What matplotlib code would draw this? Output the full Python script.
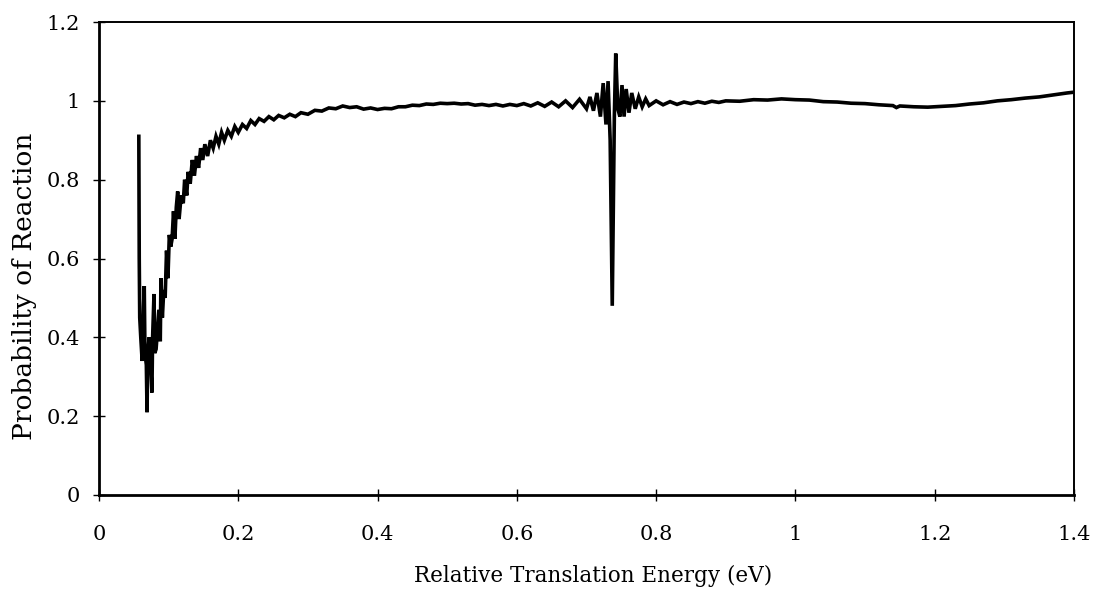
import matplotlib
matplotlib.use("Agg")
import matplotlib.pyplot as plt

# ── Reaction probability vs. relative translation energy ──
energy = [
    0.0572, 0.0578, 0.0585, 0.060, 0.062, 0.064, 0.065, 0.066, 0.068, 0.069,
    0.070, 0.072, 0.074, 0.076, 0.077, 0.079, 0.080, 0.082, 0.084, 0.086,
    0.088, 0.089, 0.091, 0.093, 0.095, 0.097, 0.099, 0.101, 0.103, 0.105,
    0.107, 0.109, 0.111, 0.113, 0.115, 0.118, 0.121, 0.123, 0.126, 0.128,
    0.131, 0.134, 0.137, 0.140, 0.143, 0.146, 0.149, 0.152, 0.156, 0.160,
    0.164, 0.168, 0.172, 0.176, 0.180, 0.185, 0.190, 0.195, 0.200, 0.206,
    0.212, 0.218, 0.224, 0.230, 0.237, 0.244, 0.251, 0.258, 0.266, 0.274,
    0.282, 0.290, 0.300, 0.31, 0.32, 0.33, 0.34, 0.35, 0.36, 0.37,
    0.38, 0.39, 0.40, 0.41, 0.42, 0.43, 0.44, 0.45, 0.46, 0.47,
    0.48, 0.49, 0.50, 0.51, 0.52, 0.53, 0.54, 0.55, 0.56, 0.57,
    0.58, 0.59, 0.60, 0.61, 0.62, 0.63, 0.64, 0.65, 0.66, 0.67,
    0.68, 0.69, 0.700, 0.705, 0.710, 0.715, 0.720, 0.724, 0.728, 0.731,
    0.734, 0.737, 0.740, 0.742, 0.745, 0.748, 0.751, 0.754, 0.757, 0.761,
    0.765, 0.77, 0.775, 0.78, 0.785, 0.79, 0.80, 0.81, 0.82, 0.83,
    0.84, 0.85, 0.86, 0.87, 0.88, 0.89, 0.90, 0.92, 0.94, 0.96,
    0.98, 1.00, 1.02, 1.04, 1.06, 1.08, 1.10, 1.12, 1.14, 1.145,
    1.15, 1.17, 1.19, 1.21, 1.23, 1.25, 1.27, 1.29, 1.31, 1.33,
    1.35, 1.37, 1.39, 1.40,
]
probability = [
    0.91, 0.60, 0.45, 0.40, 0.34, 0.48, 0.53, 0.36, 0.33, 0.21,
    0.36, 0.40, 0.34, 0.26, 0.40, 0.51, 0.36, 0.37, 0.42, 0.47,
    0.39, 0.55, 0.45, 0.52, 0.50, 0.62, 0.55, 0.66, 0.63, 0.65,
    0.72, 0.65, 0.73, 0.77, 0.70, 0.76, 0.74, 0.80, 0.76, 0.82,
    0.79, 0.85, 0.81, 0.86, 0.83, 0.88, 0.85, 0.89, 0.86, 0.90,
    0.88, 0.91, 0.89, 0.92, 0.90, 0.925, 0.91, 0.935, 0.92, 0.94,
    0.93, 0.95, 0.94, 0.955, 0.948, 0.96, 0.952, 0.963, 0.957, 0.966,
    0.96, 0.97, 0.966, 0.976, 0.974, 0.982, 0.980, 0.987, 0.983, 0.985,
    0.979, 0.982, 0.978, 0.981, 0.980, 0.985, 0.985, 0.989, 0.988, 0.992,
    0.991, 0.994, 0.993, 0.994, 0.992, 0.993, 0.989, 0.991, 0.988, 0.991,
    0.987, 0.991, 0.988, 0.993, 0.987, 0.995, 0.986, 0.997, 0.985, 1.000,
    0.983, 1.004, 0.980, 1.01, 0.975, 1.02, 0.96, 1.045, 0.94, 1.05,
    0.90, 0.48, 0.96, 1.12, 0.98, 0.96, 1.04, 0.96, 1.03, 0.97,
    1.02, 0.98, 1.01, 0.985, 1.005, 0.988, 1.0, 0.99, 0.998, 0.991,
    0.997, 0.993, 0.998, 0.994, 0.999, 0.996, 1.0, 0.999, 1.003, 1.002,
    1.005, 1.003, 1.002, 0.998, 0.997, 0.994, 0.993, 0.99, 0.988, 0.983,
    0.987, 0.985, 0.984, 0.986, 0.988, 0.992, 0.995, 1.0, 1.003, 1.007,
    1.01, 1.015, 1.02, 1.022,
]

x_ticks = [0, 0.2, 0.4, 0.6, 0.8, 1.0, 1.2, 1.4]
x_labels = ["0", "0.2", "0.4", "0.6", "0.8", "1", "1.2", "1.4"]
y_ticks = [0, 0.2, 0.4, 0.6, 0.8, 1.0, 1.2]
y_labels = ["0", "0.2", "0.4", "0.6", "0.8", "1", "1.2"]

plt.rcParams["font.family"] = ["DejaVu Serif"]

fig = plt.figure(figsize=(10.95, 5.89), dpi=100)
ax = fig.add_axes([0.0904, 0.1596, 0.8904, 0.803])

ax.plot(energy, probability, color="black", linewidth=2.6,
        solid_joinstyle="miter")

ax.set_xlim(0, 1.4)
ax.set_ylim(0, 1.2)
ax.set_xticks(x_ticks)
ax.set_xticklabels(x_labels)
ax.set_yticks(y_ticks)
ax.set_yticklabels(y_labels)

ax.tick_params(axis="both", direction="inout", length=9, width=1,
               labelsize=15, colors="black")
ax.tick_params(axis="x", pad=17)
ax.tick_params(axis="y", pad=9)

for side in ["left", "bottom"]:
    ax.spines[side].set_linewidth(2.0)
for side in ["top", "right"]:
    ax.spines[side].set_linewidth(1.4)

ax.set_xlabel("Relative Translation Energy (eV)", fontsize=15.5)
ax.set_ylabel("Probability of Reaction", fontsize=19)
ax.xaxis.set_label_coords(0.507, -0.148)
ax.yaxis.set_label_coords(-0.064, 0.442)

plt.savefig("out.png", dpi=100)
plt.close()
